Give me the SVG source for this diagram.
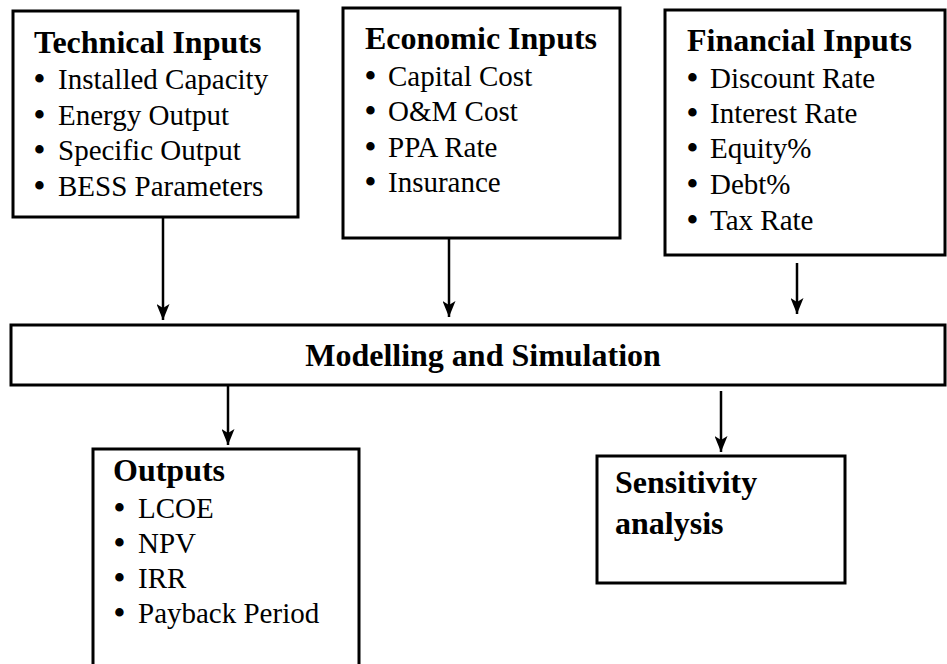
<svg xmlns="http://www.w3.org/2000/svg" width="947" height="664" viewBox="0 0 947 664">
<style>
.box{fill:#fff;stroke:#000;stroke-width:3}
.t{font-family:"Liberation Serif","Times New Roman",serif;font-size:29px;fill:#000}
.b{font-weight:bold;font-size:32px}
.bu{font-weight:bold;font-size:31px}
.con line{stroke:#000;stroke-width:2.5}
</style>
<defs>
<marker id="ah" markerWidth="16" markerHeight="13" refX="16" refY="6.5" orient="auto" markerUnits="userSpaceOnUse" viewBox="0 0 16 13">
<path d="M0,0 L16,6.5 L0,13 L4,6.5 Z" fill="#000"/>
</marker>
</defs>
<rect width="947" height="664" fill="#fff"/>
<g id="technical">
<rect class="box" x="13" y="11" width="285" height="206"/>
<text class="t b" x="34" y="53">Technical Inputs</text>
<text class="t" x="34" y="89"><tspan class="bu">•</tspan><tspan x="58">Installed Capacity</tspan></text>
<text class="t" x="34" y="125"><tspan class="bu">•</tspan><tspan x="58">Energy Output</tspan></text>
<text class="t" x="34" y="160"><tspan class="bu">•</tspan><tspan x="58">Specific Output</tspan></text>
<text class="t" x="34" y="196"><tspan class="bu">•</tspan><tspan x="58">BESS Parameters</tspan></text>
</g>
<g id="economic">
<rect class="box" x="343" y="8" width="277" height="230"/>
<text class="t b" x="365" y="49">Economic Inputs</text>
<text class="t" x="365" y="86"><tspan class="bu">•</tspan><tspan x="388">Capital Cost</tspan></text>
<text class="t" x="365" y="121"><tspan class="bu">•</tspan><tspan x="388">O&amp;M Cost</tspan></text>
<text class="t" x="365" y="157"><tspan class="bu">•</tspan><tspan x="388">PPA Rate</tspan></text>
<text class="t" x="365" y="192"><tspan class="bu">•</tspan><tspan x="388">Insurance</tspan></text>
</g>
<g id="financial">
<rect class="box" x="665" y="10" width="280" height="245"/>
<text class="t b" x="687" y="51">Financial Inputs</text>
<text class="t" x="687" y="88"><tspan class="bu">•</tspan><tspan x="710">Discount Rate</tspan></text>
<text class="t" x="687" y="123"><tspan class="bu">•</tspan><tspan x="710">Interest Rate</tspan></text>
<text class="t" x="687" y="158"><tspan class="bu">•</tspan><tspan x="710">Equity%</tspan></text>
<text class="t" x="687" y="194"><tspan class="bu">•</tspan><tspan x="710">Debt%</tspan></text>
<text class="t" x="687" y="230"><tspan class="bu">•</tspan><tspan x="710">Tax Rate</tspan></text>
</g>
<g id="modelling">
<rect class="box" x="11" y="325" width="934" height="60"/>
<text class="t b" x="483" y="366" text-anchor="middle">Modelling and Simulation</text>
</g>
<g id="outputs">
<rect class="box" x="93" y="449" width="266" height="220"/>
<text class="t b" x="113" y="481">Outputs</text>
<text class="t" x="114" y="518"><tspan class="bu">•</tspan><tspan x="138">LCOE</tspan></text>
<text class="t" x="114" y="553"><tspan class="bu">•</tspan><tspan x="138">NPV</tspan></text>
<text class="t" x="114" y="588"><tspan class="bu">•</tspan><tspan x="138">IRR</tspan></text>
<text class="t" x="114" y="623"><tspan class="bu">•</tspan><tspan x="138">Payback Period</tspan></text>
</g>
<g id="sensitivity">
<rect class="box" x="597" y="456" width="248" height="127"/>
<text class="t b" x="615" y="493">Sensitivity</text>
<text class="t b" x="615" y="534">analysis</text>
</g>
<g class="con" id="connectors">
<line x1="163" y1="218" x2="163" y2="320" marker-end="url(#ah)"/>
<line x1="449" y1="239" x2="449" y2="317" marker-end="url(#ah)"/>
<line x1="797" y1="263" x2="797" y2="314" marker-end="url(#ah)"/>
<line x1="228" y1="386" x2="228" y2="445" marker-end="url(#ah)"/>
<line x1="721" y1="391" x2="721" y2="452" marker-end="url(#ah)"/>
</g>
</svg>
